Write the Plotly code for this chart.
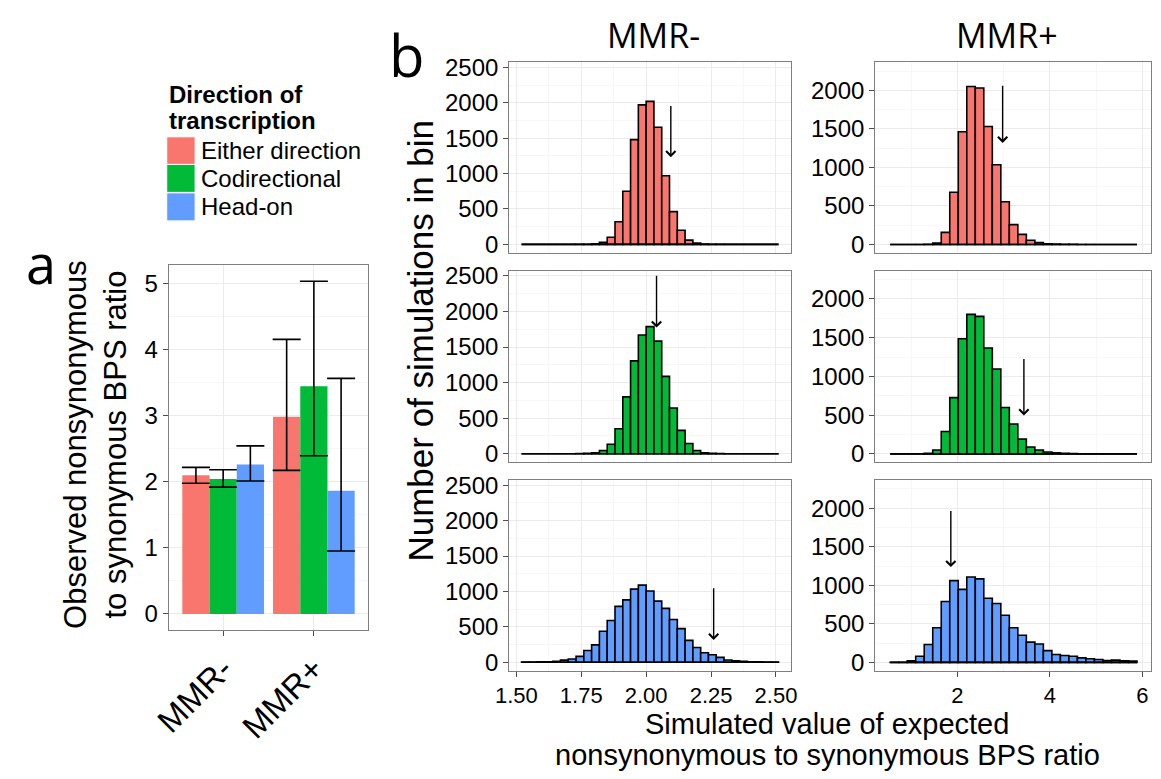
import numpy as np
import plotly.graph_objects as go

W, H = 1161, 779
FONT = "Liberation Sans, Arial, sans-serif"
TFONT = "Open Sans, DejaVu Sans, sans-serif"

# ---------------- data ----------------
directions = ["Either direction", "Codirectional", "Head-on"]
colors = ["#F8766D", "#00BA38", "#619CFF"]
conditions = ["MMR-", "MMR+"]

# panel a: observed ratio with confidence interval, per direction
obs_mmr_minus = [2.095, 2.04, 2.26]
obs_mmr_plus = [2.98, 3.44, 1.86]
ci_low_minus = [1.976, 1.917, 2.01]
ci_high_minus = [2.215, 2.18, 2.54]
ci_low_plus = [2.17, 2.39, 0.95]
ci_high_plus = [4.15, 5.03, 3.56]

# panel b: simulated distributions (bin counts)
bin_start_minus = 1.52
bin_width_minus = 0.03
bin_start_plus = 0.549
bin_width_plus = 0.184

counts_minus_either = [0, 0, 0, 0, 0, 0, 0, 1, 2, 8, 28, 100, 320, 750, 1480, 1970, 2020,
                       1655, 970, 462, 200, 60, 18, 5, 2, 1, 0, 0, 0, 0, 0, 0, 0]
counts_minus_codir = [0, 0, 0, 0, 0, 0, 0, 2, 5, 14, 46, 134, 352, 800, 1305, 1670, 1787,
                      1583, 1088, 643, 329, 143, 46, 14, 5, 2, 0, 0, 0, 0, 0, 0, 0]
counts_minus_headon = [2, 3, 5, 8, 15, 30, 45, 83, 166, 245, 438, 590, 789, 881, 1033, 1089,
                       1006, 863, 761, 604, 475, 309, 208, 134, 106, 69, 32, 22, 15, 8, 5, 3, 2]
counts_plus_either = [0, 0, 0, 1, 3, 20, 157, 678, 1462, 2050, 2030, 1530, 1034, 555, 258,
                      131, 55, 25, 10, 5, 3, 2, 1, 1, 0, 0, 0, 0, 0]
counts_plus_codir = [0, 0, 0, 2, 8, 50, 289, 726, 1486, 1800, 1775, 1367, 1095, 599, 386,
                     191, 89, 51, 25, 15, 8, 5, 3, 2, 1, 1, 0, 0, 0]
counts_plus_headon = [2, 3, 20, 80, 233, 450, 790, 1061, 947, 1108, 1083, 832, 764, 611, 450,
                      352, 263, 238, 153, 102, 89, 81, 59, 47, 38, 25, 30, 21, 17]

# arrows marking the observed value (tail height, tip height)
arrow_tail_minus = [1975, 2523, 1066]
arrow_tip_minus = [1230, 1773, 314]
arrow_tail_plus = [2080, 1244, 1983]
arrow_tip_plus = [1318, 497, 1236]

# ---------------- helpers ----------------
def xd(a, b):
    return [a / W, b / W]

def yd(top, bottom):
    return [1 - bottom / H, 1 - top / H]

def px(x):
    return x / W

def py(y):
    return 1 - y / H

GRID = "#EBEBEB"
MINOR = "#F7F7F7"
BORDER = "#7F7F7F"
TICKSIZE = 24
base_axis = dict(showline=True, mirror=True, linecolor=BORDER, linewidth=1,
                 gridcolor=GRID, gridwidth=1, zeroline=False, ticks="outside",
                 ticklen=5, tickcolor="#4D4D4D", tickwidth=1,
                 tickfont=dict(size=TICKSIZE, color="black", family=FONT))

fig = go.Figure()

# ---------------- panel a ----------------
obs = list(zip(obs_mmr_minus, obs_mmr_plus))
lows = list(zip(ci_low_minus, ci_low_plus))
highs = list(zip(ci_high_minus, ci_high_plus))
for j in range(3):
    v = list(obs[j])
    lo = list(lows[j])
    hi = list(highs[j])
    fig.add_trace(go.Bar(
        x=conditions, y=v, name=directions[j], marker_color=colors[j],
        marker_line_width=0,
        error_y=dict(type="data", symmetric=False,
                     array=[h - o for h, o in zip(hi, v)],
                     arrayminus=[o - l for o, l in zip(v, lo)],
                     color="black", thickness=1.6, width=14),
        xaxis="x", yaxis="y", showlegend=False))

# ---------------- panel b ----------------
hist_counts = [[counts_minus_either, counts_plus_either],
               [counts_minus_codir, counts_plus_codir],
               [counts_minus_headon, counts_plus_headon]]
bin_starts = [bin_start_minus, bin_start_plus]
bin_widths = [bin_width_minus, bin_width_plus]
arrow_x = [obs_mmr_minus, obs_mmr_plus]
arrow_tail = [arrow_tail_minus, arrow_tail_plus]
arrow_tip = [arrow_tip_minus, arrow_tip_plus]

annotations = []
ax_index = {}
k = 2
for r in range(3):
    for c in range(2):
        ax_index[(r, c)] = k
        counts = hist_counts[r][c]
        edges = bin_starts[c] + bin_widths[c] * np.arange(len(counts))
        xa, ya = "x%d" % k, "y%d" % k
        fig.add_trace(go.Bar(
            x=edges, y=counts, width=bin_widths[c], offset=0,
            marker=dict(color=colors[r], line=dict(color="black", width=1.6)),
            xaxis=xa, yaxis=ya, showlegend=False))
        fig.add_trace(go.Scatter(
            x=[edges[0], edges[-1] + bin_widths[c]], y=[0, 0], mode="lines",
            line=dict(color="black", width=1.6), xaxis=xa, yaxis=ya,
            showlegend=False, hoverinfo="skip"))
        annotations.append(dict(
            x=arrow_x[c][r], y=arrow_tip[c][r], ax=arrow_x[c][r], ay=arrow_tail[c][r],
            xref=xa, yref=ya, axref=xa, ayref=ya, text="", showarrow=True,
            arrowhead=4, arrowsize=1.3, arrowwidth=1.4, arrowcolor="black", standoff=0))
        k += 1

layout = dict(
    width=W, height=H, margin=dict(l=0, r=0, t=0, b=0),
    paper_bgcolor="white", plot_bgcolor="white",
    barmode="group", bargap=0.1, bargroupgap=0,
    font=dict(family=FONT, color="black"),
)

layout["xaxis"] = dict(base_axis, domain=xd(153, 357), anchor="y", type="category",
                       range=[-0.6, 1.6], tickangle=-45,
                       tickfont=dict(size=33, color="black", family=FONT))
layout["yaxis"] = dict(base_axis, domain=yd(261, 633), anchor="x", range=[-0.25, 5.28],
                       tickmode="linear", tick0=0, dtick=1,
                       minor=dict(dtick=0.5, tick0=0, showgrid=True, gridcolor=MINOR))

col_dom = [xd(501, 789), xd(875, 1157)]
row_dom = [yd(55, 249), yd(267, 462), yd(480, 674)]
x_ranges = [[1.4725, 2.558], [0.224, 6.19]]
y_ranges = [[-120, 2575], [-108, 2366]]
x_ticks = [dict(tickmode="array", tickvals=[1.5, 1.75, 2.0, 2.25, 2.5],
                ticktext=["1.50", "1.75", "2.00", "2.25", "2.50"],
                minor=dict(tickmode="linear", tick0=1.375, dtick=0.125, showgrid=True, gridcolor=MINOR)),
           dict(tickmode="linear", tick0=0, dtick=2,
                minor=dict(tickmode="linear", tick0=1, dtick=1, showgrid=True, gridcolor=MINOR))]
for (r, c), k in ax_index.items():
    xa = dict(base_axis, domain=col_dom[c], anchor="y%d" % k, range=x_ranges[c], **x_ticks[c])
    xa["tickfont"] = dict(size=22, color="black", family=FONT)
    if r < 2:
        xa["showticklabels"] = False
        xa["ticks"] = ""
    layout["xaxis%d" % k] = xa
    layout["yaxis%d" % k] = dict(base_axis, domain=row_dom[r], anchor="x%d" % k,
                                 range=y_ranges[c], tickmode="linear", tick0=0, dtick=500,
                                 minor=dict(tickmode="linear", tick0=250, dtick=500,
                                            showgrid=True, gridcolor=MINOR))

def note(text, x, y, size, family=FONT, xanchor="center", yanchor="middle", angle=0):
    return dict(text=text, x=px(x), y=py(y), xanchor=xanchor, yanchor=yanchor,
                textangle=angle, font=dict(family=family, size=size, color="black"),
                showarrow=False, xref="paper", yref="paper")

# titles & labels
annotations += [
    note("a", 22, 259, 54, TFONT),
    note("b", 397, 47, 58, TFONT),
    note("MMR-", 648, 27, 34, TFONT),
    note("MMR+", 1010, 27, 34, TFONT),
    note("Observed nonsynonymous<br>to synonymous BPS ratio", 78, 444, 31, angle=-90),
    note("Number of simulations in bin", 410, 338, 35, angle=-90),
    note("Simulated value of expected", 826, 728, 29),
    note("nonsynonymous to synonymous BPS ratio", 826, 760, 29),
    note("<b>Direction of</b>", 151, 88, 24, xanchor="left"),
    note("<b>transcription</b>", 151, 114, 24, xanchor="left"),
]

shapes = []
key_tops = [131, 159, 188]
key_h = 28.5
for j in range(3):
    shapes.append(dict(type="rect", xref="paper", yref="paper",
                       x0=px(151), x1=px(180), y0=py(key_tops[j] + key_h), y1=py(key_tops[j]),
                       fillcolor=colors[j], line=dict(width=1, color="white")))
    annotations.append(note(directions[j], 184, key_tops[j] + key_h / 2, 24, xanchor="left"))

layout["annotations"] = annotations
layout["shapes"] = shapes
fig.update_layout(**layout)

fig.write_html("out.html")
